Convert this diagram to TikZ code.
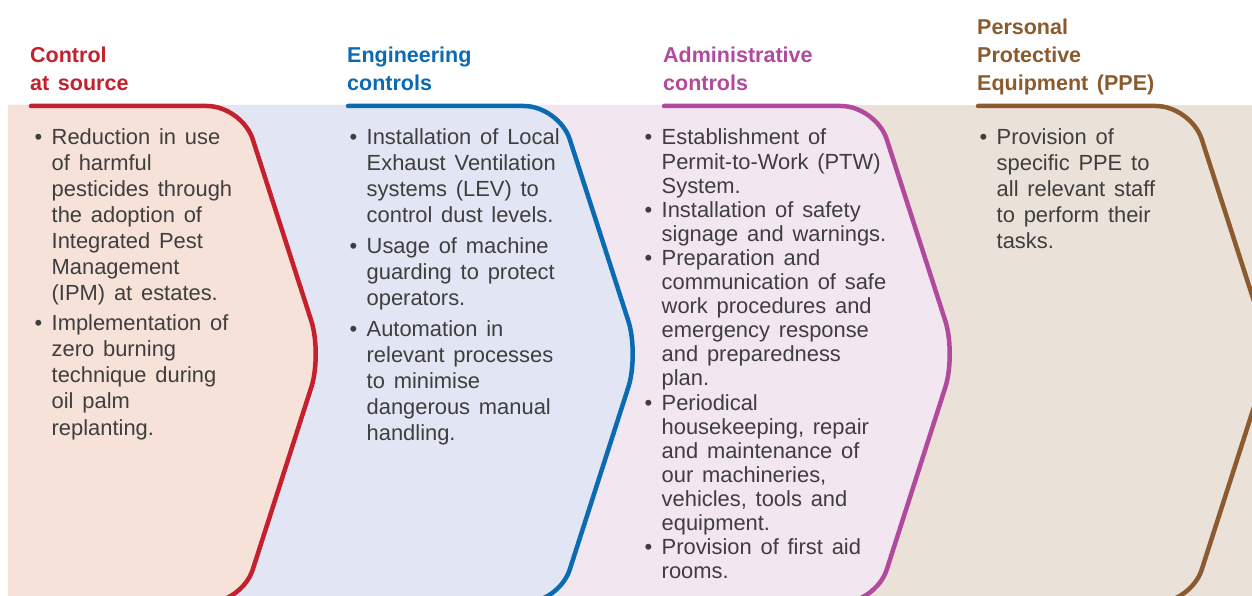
\documentclass[tikz,border=0pt]{standalone}
\usepackage{fontspec}
\setmainfont{Liberation Sans}[WordSpace=1.45]
\definecolor{fillA}{HTML}{F6E2D8}
\definecolor{fillB}{HTML}{E1E5F4}
\definecolor{fillC}{HTML}{F2E6F0}
\definecolor{fillD}{HTML}{EAE1D8}
\definecolor{lineA}{HTML}{C4202E}
\definecolor{lineB}{HTML}{0B6BB2}
\definecolor{lineC}{HTML}{B14A9D}
\definecolor{lineD}{HTML}{8B5A2E}
\definecolor{txt}{HTML}{3E3E3E}
\newcommand{\mybul}{\makebox[17pt][l]{\textbullet}}
\tikzset{
  body/.style={inner sep=0pt, anchor=base west, text=txt, font=\fontsize{21.9}{26}\selectfont},
  bodytight/.style={body, font=\fontsize{21.9}{24.1}\selectfont},
  ttl/.style={inner sep=0pt, anchor=base west, font=\bfseries\fontsize{21.5}{28}\selectfont},
  outline/.style={line width=4.5pt, line cap=round, line join=round},
}
\begin{document}
\begin{tikzpicture}[x=1pt, y=-1pt]
\useasboundingbox (0,0) rectangle (1252,596);
\clip (0,0) rectangle (1252,596);
% fills
\fill[fillD] (8,105) rectangle (1252,610);
\fill[fillC] (8,105) -- (800,105) [rounded corners=35] -- (876,105) -- (956,354) -- (876,603) [sharp corners] -- (800,603) -- (8,603) -- cycle;
\fill[fillB] (8,105) -- (480,105) [rounded corners=35] -- (559,105) -- (639,354) -- (559,603) [sharp corners] -- (480,603) -- (8,603) -- cycle;
\fill[fillA] (8,105) -- (160,105) [rounded corners=35] -- (242,105) -- (322,354) -- (242,603) [sharp corners] -- (160,603) -- (8,603) -- cycle;
% outlines
\draw[outline, lineA] (31,106) -- (160,106) [rounded corners=35] -- (242,106) -- (322,354) -- (242,603) [sharp corners] -- (160,603);
\draw[outline, lineB] (348,106) -- (480,106) [rounded corners=35] -- (559,106) -- (639,354) -- (559,603) [sharp corners] -- (480,603);
\draw[outline, lineC] (664,106) -- (800,106) [rounded corners=35] -- (876,106) -- (956,354) -- (876,603) [sharp corners] -- (800,603);
\draw[outline, lineD] (978,106) -- (1110,106) [rounded corners=35] -- (1191,106) -- (1271,354) -- (1191,603) [sharp corners] -- (1110,603);
% titles
\node[ttl, text=lineA] (t1) at (30,63) {\begin{tabular}[t]{@{}l@{}}Control\\at source\end{tabular}};
\node[ttl, text=lineB] (t2) at (347,63) {\begin{tabular}[t]{@{}l@{}}Engineering\\controls\end{tabular}};
\node[ttl, text=lineC] (t3) at (663,63) {\begin{tabular}[t]{@{}l@{}}Administrative\\controls\end{tabular}};
\node[ttl, text=lineD] (t4) at (977,35) {\begin{tabular}[t]{@{}l@{}}Personal\\Protective\\Equipment (PPE)\end{tabular}};
% bodies
\node[body] (b1) at (34.5,145) {\begin{tabular}[t]{@{}l@{}l@{}}
\mybul & Reduction in use\\
 & of harmful\\
 & pesticides through\\
 & the adoption of\\
 & Integrated Pest\\
 & Management\\
 & (IPM) at estates.\\[4pt]
\mybul & Implementation of\\
 & zero burning\\
 & technique during\\
 & oil palm\\
 & replanting.
\end{tabular}};
\node[body] (b2) at (349.5,145) {\begin{tabular}[t]{@{}l@{}l@{}}
\mybul & Installation of Local\\
 & Exhaust Ventilation\\
 & systems (LEV) to\\
 & control dust levels.\\[5pt]
\mybul & Usage of machine\\
 & guarding to protect\\
 & operators.\\[5pt]
\mybul & Automation in\\
 & relevant processes\\
 & to minimise\\
 & dangerous manual\\
 & handling.
\end{tabular}};
\node[bodytight] (b3) at (644.5,145) {\begin{tabular}[t]{@{}l@{}l@{}}
\mybul & Establishment of\\
 & Permit-to-Work (PTW)\\
 & System.\\
\mybul & Installation of safety\\
 & signage and warnings.\\
\mybul & Preparation and\\
 & communication of safe\\
 & work procedures and\\
 & emergency response\\
 & and preparedness\\
 & plan.\\
\mybul & Periodical\\
 & housekeeping, repair\\
 & and maintenance of\\
 & our machineries,\\
 & vehicles, tools and\\
 & equipment.\\
\mybul & Provision of first aid\\
 & rooms.
\end{tabular}};
\node[body] (b4) at (979.5,145) {\begin{tabular}[t]{@{}l@{}l@{}}
\mybul & Provision of\\
 & specific PPE to\\
 & all relevant staff\\
 & to perform their\\
 & tasks.
\end{tabular}};
\end{tikzpicture}
\end{document}
